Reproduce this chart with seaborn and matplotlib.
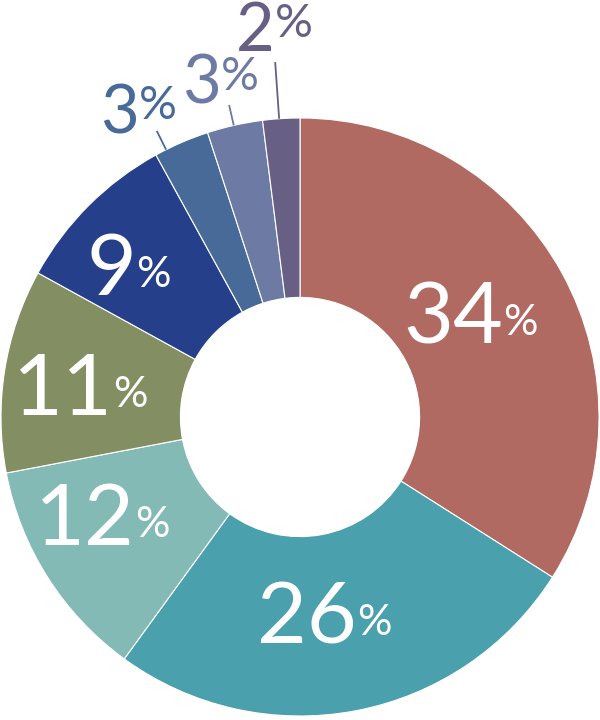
import numpy as np
import matplotlib
matplotlib.use("Agg")
import matplotlib.pyplot as plt
import seaborn as sns

shares = [34, 26, 12, 11, 9, 3, 3, 2]
colors = ["#b06a61", "#4aa0ad", "#84bab5", "#838f62", "#263f8b", "#476a99", "#6c7aa4", "#685f85"]

# label anchors in pixels: (split x, digit baseline y)
anchors = [(503, 343), (357, 643), (135, 545), (113, 415), (136, 295),
           (139, 133), (221, 104), (275, 51)]
# leader lines for the small slices: angle offset from wedge middle, end radius
leaders = {5: (3.2, 1.07), 6: (0.2, 1.07), 7: (0.4, 1.19)}

CX, CY, R = 300, 417, 299


def px(x, y):
    return (x - CX) / R, (CY - y) / R


sns.set_theme(style="white")
plt.rcParams['font.family'] = ['Lato', 'DejaVu Sans']
pal = sns.color_palette(colors)

fig = plt.figure(figsize=(6, 7.2), dpi=100)
ax = fig.add_axes([0, 0, 1, 1])
wedges, _ = ax.pie(shares, colors=pal, startangle=90, counterclock=False,
                   radius=1.0, wedgeprops=dict(width=0.6, edgecolor="white", linewidth=0.8))

for i, (w, s) in enumerate(zip(wedges, shares)):
    ax_x, ax_y = px(*anchors[i])
    if i < 5:
        ax.text(ax_x, ax_y, str(s), color="white", fontsize=62,
                ha="right", va="baseline")
        ax.text(ax_x, ax_y + 8 / R, "%", color="white", fontsize=31,
                ha="left", va="baseline")
    else:
        off, rend = leaders[i]
        a = np.deg2rad((w.theta1 + w.theta2) / 2 + off)
        ax.plot([np.cos(a), rend * np.cos(a)], [np.sin(a), rend * np.sin(a)],
                color=colors[i], lw=1.3, solid_capstyle="butt")
        ax.text(ax_x, ax_y, str(s), color=colors[i], fontsize=48,
                ha="right", va="baseline")
        ax.text(ax_x, ax_y + 14 / R, "%", color=colors[i], fontsize=34,
                ha="left", va="baseline")

ax.set_xlim(-CX / R, (600 - CX) / R)
ax.set_ylim(-(720 - CY) / R, CY / R)
ax.set_aspect("equal")
ax.axis("off")
fig.savefig("out.png", dpi=100)
